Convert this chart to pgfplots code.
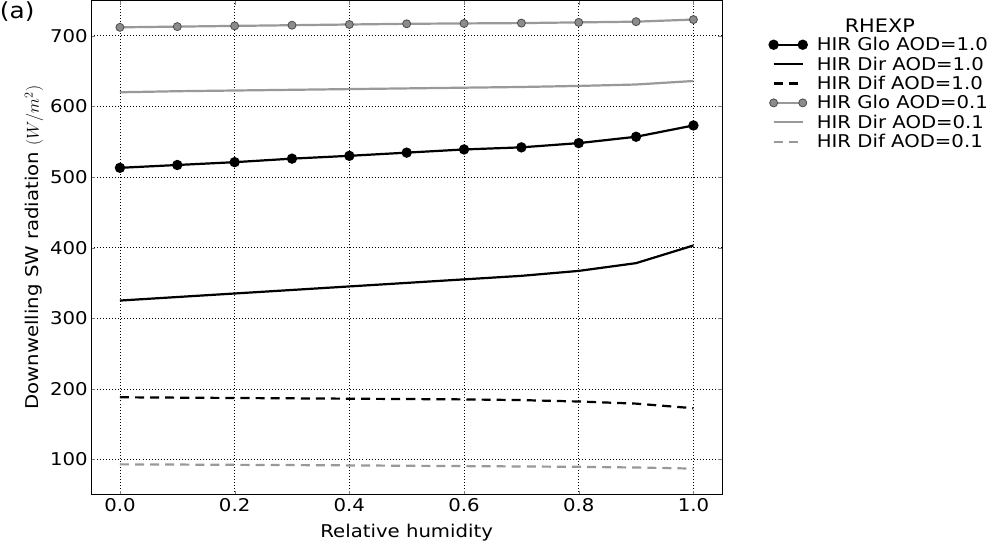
\documentclass[border=0pt]{standalone}
\usepackage{fontspec}
\setmainfont{DejaVu Sans}[FakeStretch=1.12]
\usepackage{pgfplots}
\pgfplotsset{compat=1.18}
\definecolor{lgray}{HTML}{999999}
\definecolor{mgray}{HTML}{8C8C8C}
\newcommand{\fs}{\fontsize{17.5}{19}\selectfont}
\begin{document}
\begin{tikzpicture}
\begin{axis}[
 scale only axis, width=628pt, height=492pt,
 xmin=-0.05, xmax=1.05, ymin=50, ymax=750,
 xtick={0,0.2,0.4,0.6,0.8,1.0}, ytick={100,200,300,400,500,600,700},
 xticklabel style={/pgf/number format/.cd, fixed, fixed zerofill, precision=1},
 /pgf/number format/assume math mode=true,
 grid=major, major grid style={black, line width=0.6pt, dash pattern=on 0.8pt off 2.2pt},
 tick align=inside, major tick length=4pt,
 axis line style={line width=1pt},
 label style={font=\fs}, ticklabel style={font=\fs},
 xlabel={Relative humidity}, ylabel={Downwelling SW radiation $(W/m^2)$},
 xlabel style={yshift=-6pt},
 legend style={at={(rel axis cs:1.075,0.93)}, anchor=north west, draw=none, fill=none, font=\fs, row sep=0.5pt, column sep=8pt, cells={anchor=west}, inner sep=0pt},
 legend image code/.code={\draw[#1] plot coordinates {(0pt,0pt) (29pt,0pt)};},
 clip=false,
]
\addplot[black, line width=2.2pt, mark=*, mark size=4pt, mark options={solid}] coordinates {
(0.0,513) (0.1,517) (0.2,521) (0.3,526) (0.4,530) (0.5,534.5) (0.6,539) (0.7,542) (0.8,548) (0.9,557) (1.0,573)};
\addlegendentry{HIR Glo AOD=1.0}
\addplot[black, line width=2.2pt] coordinates {
(0.0,325) (0.1,330) (0.2,335) (0.3,340) (0.4,345) (0.5,350) (0.6,355) (0.7,360) (0.8,367) (0.9,378) (1.0,403)};
\addlegendentry{HIR Dir AOD=1.0}
\addplot[black, line width=2.2pt, dash pattern=on 9pt off 6pt] coordinates {
(0.0,188) (0.1,187.5) (0.2,187) (0.3,186.5) (0.4,186) (0.5,185.5) (0.6,185) (0.7,184) (0.8,182) (0.9,179) (1.0,172.5)};
\addlegendentry{HIR Dif AOD=1.0}
\addplot[lgray, line width=2.2pt, mark=*, mark size=4pt, mark options={solid, fill=mgray, draw=black!70, line width=0.8pt}] coordinates {
(0.0,712) (0.1,713) (0.2,714) (0.3,715) (0.4,716) (0.5,717) (0.6,717.5) (0.7,718) (0.8,719) (0.9,720) (1.0,723)};
\addlegendentry{HIR Glo AOD=0.1}
\addplot[lgray, line width=2.2pt] coordinates {
(0.0,620) (0.1,621.5) (0.2,622.5) (0.3,623.5) (0.4,624.5) (0.5,625.5) (0.6,626.5) (0.7,627.5) (0.8,629) (0.9,631) (1.0,636)};
\addlegendentry{HIR Dir AOD=0.1}
\addplot[lgray, line width=2.2pt, dash pattern=on 9pt off 6pt] coordinates {
(0.0,93) (0.1,92.7) (0.2,92.3) (0.3,92) (0.4,91.5) (0.5,91) (0.6,90.5) (0.7,90) (0.8,89.5) (0.9,88.5) (1.0,87)};
\addlegendentry{HIR Dif AOD=0.1}
\node[font=\fontsize{18.5}{20}\selectfont] at (rel axis cs:1.25,0.948) {RHEXP};
\node[font=\fontsize{22}{24}\selectfont, anchor=west, inner sep=0pt] at (rel axis cs:-0.145,0.977) {(a)};
\end{axis}
\end{tikzpicture}
\end{document}
